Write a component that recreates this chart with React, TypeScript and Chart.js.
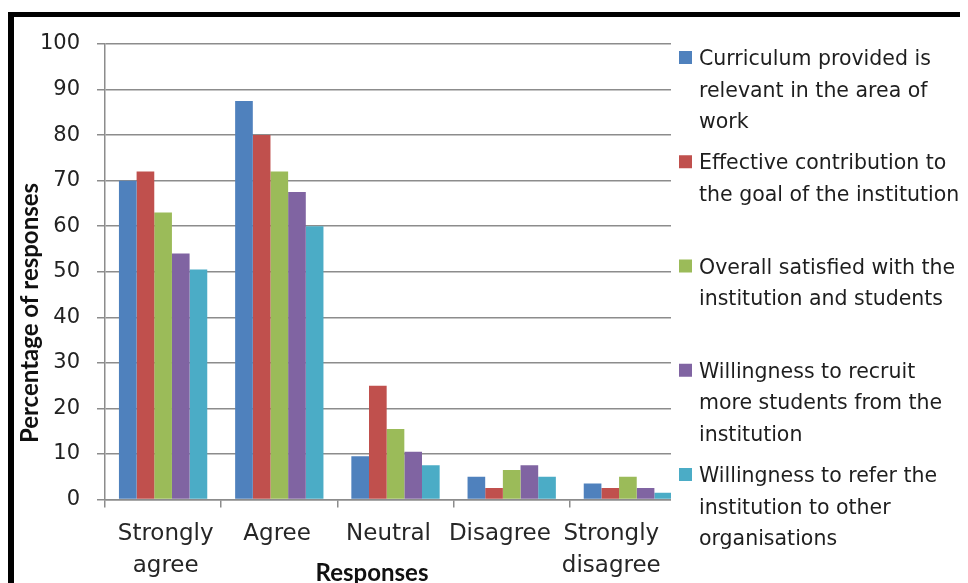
import React, { useEffect, useRef } from 'react';
import { Chart, registerables } from 'chart.js';

Chart.register(...registerables);

// ---------- data ----------
const categories = ['Strongly agree', 'Agree', 'Neutral', 'Disagree', 'Strongly disagree'];
const categoryTickLines = [['Strongly', 'agree'], ['Agree'], ['Neutral'], ['Disagree'], ['Strongly', 'disagree']];

const seriesNames = [
  'Curriculum provided is relevant in the area of work',
  'Effective contribution to the goal of the institution',
  'Overall satisfied with the institution and students',
  'Willingness to recruit more students from the institution',
  'Willingness to refer the institution to other organisations',
];

const curriculumRelevant = [70, 87.5, 9.5, 5, 3.5];
const effectiveContribution = [72, 80, 25, 2.5, 2.5];
const overallSatisfied = [63, 72, 15.5, 6.5, 5];
const willingRecruit = [54, 67.5, 10.5, 7.5, 2.5];
const willingRefer = [50.5, 60, 7.5, 5, 1.5];

const yMin = 0;
const yMax = 100;
const yStep = 10;

const xAxisTitle = 'Responses';
const yAxisTitle = 'Percentage of responses';

const seriesColors = ['#4F81BD', '#C0504D', '#9BBB59', '#8064A2', '#4BACC6'];

// ---------- helpers ----------
function wrapText(ctx: CanvasRenderingContext2D, text: string, maxWidth: number): string[] {
  const words = text.split(' ');
  const lines: string[] = [];
  let cur = '';
  for (const w of words) {
    const test = cur ? cur + ' ' + w : w;
    if (cur && ctx.measureText(test).width > maxWidth) {
      lines.push(cur);
      cur = w;
    } else {
      cur = test;
    }
  }
  if (cur) lines.push(cur);
  return lines;
}

const LEGEND_LEFT = 663;

const decorPlugin = {
  id: 'decor',
  afterDraw(chart: any) {
    const ctx: CanvasRenderingContext2D = chart.ctx;
    const W = chart.width;
    const H = chart.height;
    const area = chart.chartArea;
    ctx.save();

    // legend panel (overlaps right edge of plot like the original)
    ctx.fillStyle = '#ffffff';
    ctx.fillRect(LEGEND_LEFT, 9, W - LEGEND_LEFT, H - 9);

    // category labels, spread over the visible part of the axis
    ctx.font = '23px "DejaVu Sans"';
    ctx.fillStyle = '#262626';
    ctx.textAlign = 'center';
    ctx.textBaseline = 'alphabetic';
    const labLeft = area.left + 5;
    const labRight = LEGEND_LEFT - 4;
    const step = (labRight - labLeft) / categoryTickLines.length;
    categoryTickLines.forEach((lines, i) => {
      const cx = labLeft + step * (i + 0.5);
      lines.forEach((ln, j) => ctx.fillText(ln, cx, area.bottom + 40 + j * 32));
    });

    // legend items
    ctx.font = '20.5px "DejaVu Sans"';
    ctx.textAlign = 'left';
    chart.data.datasets.forEach((ds: any, i: number) => {
      const base = 57 + i * 104.25;
      ctx.fillStyle = ds.backgroundColor;
      ctx.fillRect(LEGEND_LEFT + 8, base - 14, 13, 13);
      ctx.fillStyle = '#1e1e1e';
      const lines = wrapText(ctx, ds.label, 266);
      lines.forEach((ln, j) => ctx.fillText(ln, LEGEND_LEFT + 28, base + j * 31.5));
    });

    // axis titles
    ctx.fillStyle = '#111111';
    ctx.font = 'bold 24px Lato';
    ctx.textAlign = 'center';
    ctx.fillText(xAxisTitle, 364, 573);
    ctx.save();
    ctx.translate(30, 305);
    ctx.rotate(-Math.PI / 2);
    ctx.fillText(yAxisTitle, 0, 0);
    ctx.restore();

    // frame
    ctx.fillStyle = '#000000';
    ctx.fillRect(0, 4, W, 5);
    ctx.fillRect(0, 4, 6, H - 4);
    ctx.restore();
  },
};

export default function App() {
  const canvasRef = useRef<HTMLCanvasElement | null>(null);

  useEffect(() => {
    if (!canvasRef.current) return;
    const seriesValues = [curriculumRelevant, effectiveContribution, overallSatisfied, willingRecruit, willingRefer];
    const chart = new Chart(canvasRef.current, {
      type: 'bar',
      data: {
        labels: categories,
        datasets: seriesValues.map((vals, i) => ({
          label: seriesNames[i],
          data: vals,
          backgroundColor: seriesColors[i],
          borderWidth: 0,
          barPercentage: 1,
          categoryPercentage: 0.76,
        })),
      },
      options: {
        animation: false,
        responsive: true,
        maintainAspectRatio: false,
        layout: { padding: { top: 36, right: 282, bottom: 0, left: 0 } },
        plugins: {
          legend: { display: false },
          tooltip: { enabled: false },
          title: { display: false },
        },
        scales: {
          x: {
            offset: true,
            grid: {
              offset: true,
              drawOnChartArea: false,
              drawTicks: true,
              tickLength: 8,
              color: '#8c8c8c',
              lineWidth: 1.5,
            },
            border: { color: '#8c8c8c', width: 1.5 },
            ticks: {
              display: false,
              autoSkip: false,
            },
            afterFit: (scale: any) => {
              scale.height = 83.5;
            },
          },
          y: {
            min: yMin,
            max: yMax,
            ticks: {
              stepSize: yStep,
              color: '#222222',
              font: { family: '"DejaVu Sans"', size: 21 },
              padding: 17,
            },
            grid: {
              color: '#8c8c8c',
              lineWidth: 1.5,
              tickLength: 8,
              drawTicks: true,
            },
            border: { color: '#8c8c8c', width: 1.5 },
            afterFit: (scale: any) => {
              scale.width = 97;
            },
          },
        },
      },
      plugins: [decorPlugin],
    });
    return () => chart.destroy();
  }, []);

  return (
    <div style={{ position: 'relative', width: 960, height: 575 }}>
      <canvas ref={canvasRef} />
    </div>
  );
}
